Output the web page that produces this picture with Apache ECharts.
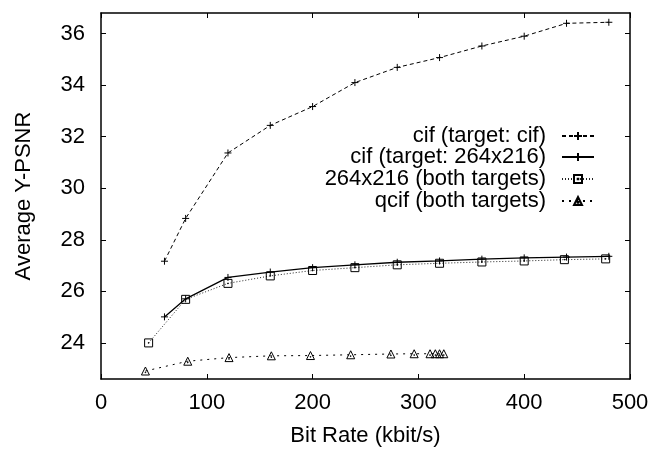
<!DOCTYPE html>
<html>
<head>
<meta charset="utf-8">
<script src="https://cdn.jsdelivr.net/npm/echarts@6/dist/echarts.min.js"></script>
<style>html,body{margin:0;padding:0;background:#fff}#c{width:671px;height:452px}</style>
</head>
<body>
<div id="c"></div>
<script>
var cifCifX = [60, 80, 120, 160, 200, 240, 280, 320, 360, 400, 440, 480];
var cifCifY = [27.17, 28.83, 31.37, 32.44, 33.17, 34.1, 34.69, 35.07, 35.52, 35.9, 36.4, 36.44];
var cif264X = [60, 80, 120, 160, 200, 240, 280, 320, 360, 400, 440, 480];
var cif264Y = [25.01, 25.71, 26.54, 26.75, 26.92, 27.03, 27.13, 27.18, 27.25, 27.3, 27.33, 27.36];
var r264X = [45, 80, 120, 160, 200, 240, 280, 320, 360, 400, 438, 477];
var r264Y = [24.0, 25.69, 26.31, 26.6, 26.81, 26.92, 27.03, 27.09, 27.14, 27.18, 27.23, 27.26];
var qcifX = [42, 82, 121, 161, 198, 236, 274, 296, 311, 316, 320, 324];
var qcifY = [22.91, 23.29, 23.43, 23.5, 23.51, 23.54, 23.57, 23.58, 23.58, 23.58, 23.58, 23.58];
var seriesNames = ['cif (target: cif)', 'cif (target: 264x216)', '264x216 (both targets)', 'qcif (both targets)'];
var xTicks = { min: 0, max: 500, interval: 100 };
var yRange = { min: 22.6, max: 36.8 };
var yTickValues = [24, 26, 28, 30, 32, 34, 36];

function pairs(xs, ys) { return xs.map(function (x, i) { return [x, ys[i]]; }); }

var FONT = 'Liberation Sans, Arial, Helvetica, sans-serif';
var FS = 22;
var PLUS = 'path://M5,0V10M0,5H10';
var SQUARE = 'path://M0,0H10V10H0Z M4.6,4.6H5.4V5.4H4.6Z';
var TRI = 'path://M5,0L10,9L0,9Z M4.6,5.6H5.4V6.4H4.6Z';

function mkSeries(name, data, symbol, size, lineType, width, color) {
  return {
    name: name, type: 'line', data: data, symbol: symbol, symbolSize: size,
    showAllSymbol: true, animation: false, silent: true,
    lineStyle: { color: color, width: width, type: lineType },
    itemStyle: { color: 'rgba(0,0,0,0)', borderColor: '#000', borderWidth: 1 },
    emphasis: { disabled: true }
  };
}

var series = [
  mkSeries(seriesNames[0], pairs(cifCifX, cifCifY), PLUS, 7, [4, 3], 1, '#000'),
  mkSeries(seriesNames[1], pairs(cif264X, cif264Y), PLUS, 7, 'solid', 1.3, '#000'),
  mkSeries(seriesNames[2], pairs(r264X, r264Y), SQUARE, 8, [1, 2], 1, '#222'),
  mkSeries(seriesNames[3], pairs(qcifX, qcifY), TRI, 8, [2, 5], 1, '#000')
];

var rowTops = [125, 146, 168, 190];
var legends = seriesNames.map(function (n, i) {
  return {
    data: [n], right: 76, top: rowTops[i], padding: 0, align: 'right', orient: 'vertical',
    itemWidth: 32, itemHeight: 10, selectedMode: false,
    textStyle: { fontFamily: FONT, fontSize: FS, color: '#000', padding: [0, 11, 0, 0], lineHeight: 22 }
  };
});

function axisCommon() {
  return {
    axisLine: { show: true, onZero: false, lineStyle: { color: '#000', width: 1.5 } },
    axisTick: { show: true, inside: true, length: 5, lineStyle: { color: '#000', width: 1 } },
    splitLine: { show: false }
  };
}

var xBottom = Object.assign(axisCommon(), {
  type: 'value', position: 'bottom', min: xTicks.min, max: xTicks.max, interval: xTicks.interval,
  name: 'Bit Rate (kbit/s)', nameLocation: 'middle', nameGap: 46,
  nameTextStyle: { fontFamily: FONT, fontSize: FS, color: '#000' },
  axisLabel: { fontFamily: FONT, fontSize: FS, color: '#000', margin: 13 }
});
var xTop = Object.assign(axisCommon(), {
  type: 'value', position: 'top', min: xTicks.min, max: xTicks.max, interval: xTicks.interval,
  axisLabel: { show: false }
});
var yLeft = Object.assign(axisCommon(), {
  type: 'value', position: 'left', min: yRange.min, max: yRange.max,
  name: 'Average Y-PSNR', nameLocation: 'middle', nameGap: 66, nameRotate: 90,
  nameTextStyle: { fontFamily: FONT, fontSize: FS, color: '#000' },
  axisLabel: { fontFamily: FONT, fontSize: FS, color: '#000', margin: 16, customValues: yTickValues }
});
yLeft.axisTick.customValues = yTickValues;
var yRight = Object.assign(axisCommon(), {
  type: 'value', position: 'right', min: yRange.min, max: yRange.max,
  axisLabel: { show: false }
});
yRight.axisTick.customValues = yTickValues;

var chart = echarts.init(document.getElementById('c'), null, { renderer: 'canvas' });
chart.setOption({
  backgroundColor: '#fff',
  animation: false,
  grid: { left: 101, right: 41, top: 13, bottom: 66, containLabel: false },
  legend: legends,
  xAxis: [xBottom, xTop],
  yAxis: [yLeft, yRight],
  series: series
});
</script>
</body>
</html>
